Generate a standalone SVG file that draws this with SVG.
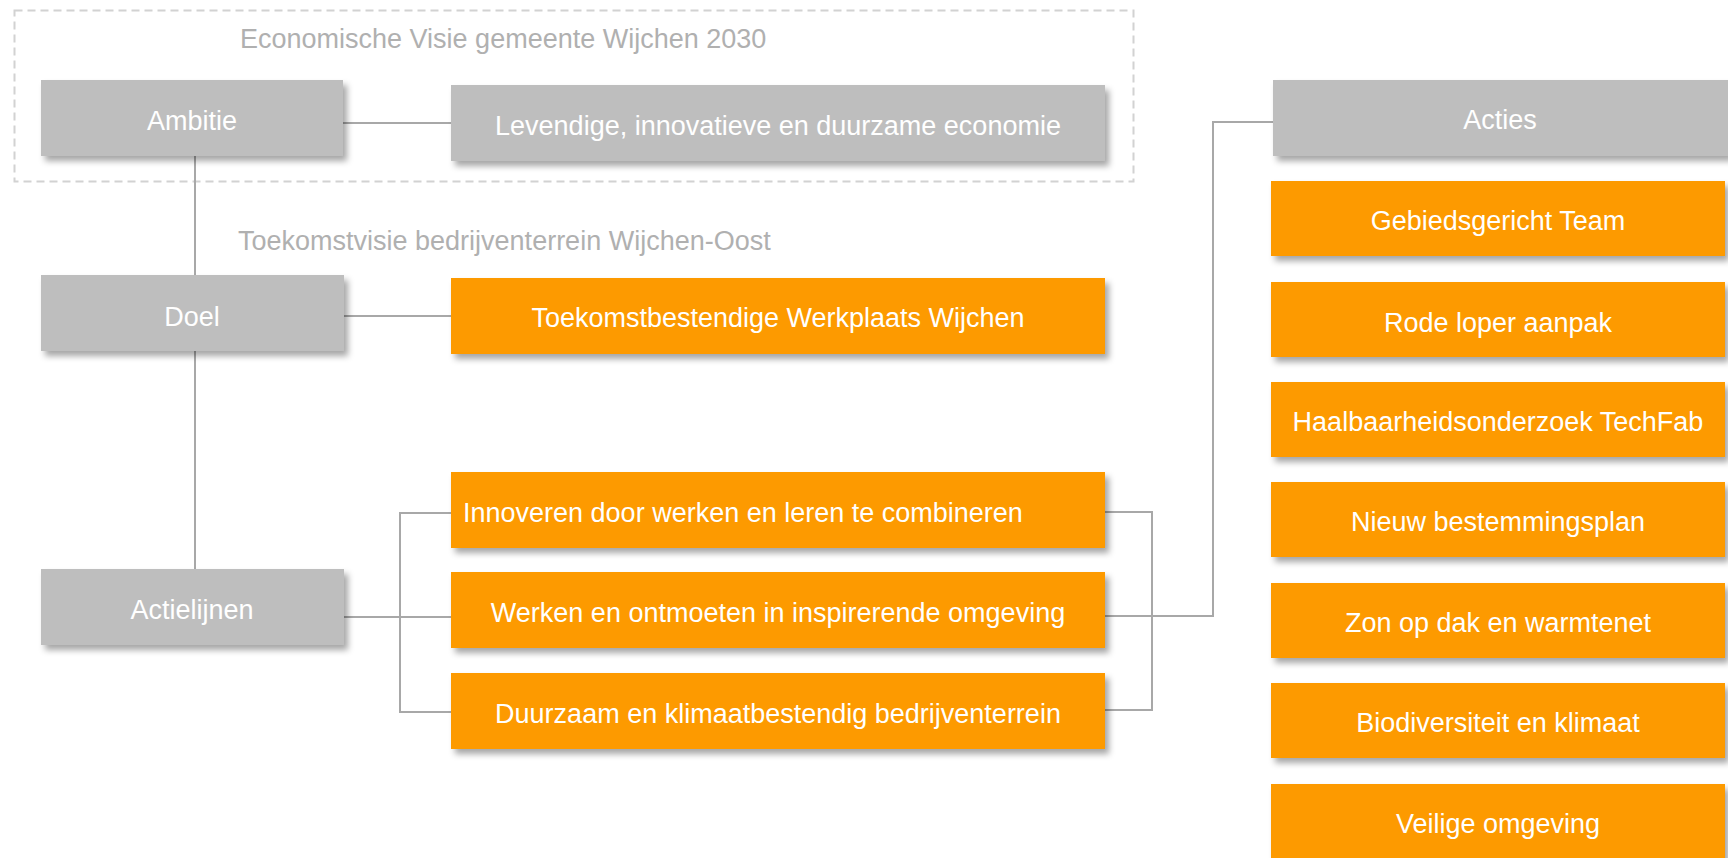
<svg xmlns="http://www.w3.org/2000/svg" width="1728" height="858" viewBox="0 0 1728 858">
  <defs>
    <filter id="sh" x="-10%" y="-20%" width="125%" height="160%">
      <feDropShadow dx="4" dy="5" stdDeviation="3" flood-color="#000" flood-opacity="0.35"/>
    </filter>
  </defs>
  <style>
    .g { fill: #bebebe; filter: url(#sh); }
    .o { fill: #fd9a00; filter: url(#sh); }
    .t { font-family: "Liberation Sans", Arial, sans-serif; font-size: 27px; fill: #ffffff; text-anchor: middle; }
    .ttl { font-family: "Liberation Sans", Arial, sans-serif; font-size: 27px; fill: #b0b0b0; }
    .c { fill: none; stroke: #a8a8a8; stroke-width: 2; }
  </style>
  <rect x="14.5" y="10.5" width="1119" height="171" fill="none" stroke="#d2d2d2" stroke-width="2" stroke-dasharray="8 5"/>
  <text class="ttl" x="240" y="48">Economische Visie gemeente Wijchen 2030</text>
  <text class="ttl" x="238" y="250">Toekomstvisie bedrijventerrein Wijchen-Oost</text>

  <g id="connectors">
    <path class="c" d="M343 123 H451"/>
    <path class="c" d="M195 156 V275"/>
    <path class="c" d="M195 351 V569"/>
    <path class="c" d="M344 316 H451"/>
    <path class="c" d="M344 617 H451"/>
    <path class="c" d="M457 513 H400 V712 H457"/>
    <path class="c" d="M1105 512 H1152 V710 H1105"/>
    <path class="c" d="M1105 616 H1213 V122 H1273"/>
  </g>

  <g id="ambitie"><rect class="g" x="41" y="80" width="302" height="76"/><text class="t" x="192" y="130">Ambitie</text></g>
  <g id="levendige"><rect class="g" x="451" y="85" width="654" height="76"/><text class="t" x="778" y="135">Levendige, innovatieve en duurzame economie</text></g>
  <g id="doel"><rect class="g" x="41" y="275" width="303" height="76"/><text class="t" x="192" y="326">Doel</text></g>
  <g id="toekomst"><rect class="o" x="451" y="278" width="654" height="76"/><text class="t" x="778" y="327">Toekomstbestendige Werkplaats Wijchen</text></g>
  <g id="actielijnen"><rect class="g" x="41" y="569" width="303" height="76"/><text class="t" x="192" y="619">Actielijnen</text></g>
  <g id="innoveren"><rect class="o" x="451" y="472" width="654" height="76"/><text class="t" x="463" y="522" style="text-anchor:start">Innoveren door werken en leren te combineren</text></g>
  <g id="werken"><rect class="o" x="451" y="572" width="654" height="76"/><text class="t" x="778" y="622">Werken en ontmoeten in inspirerende omgeving</text></g>
  <g id="duurzaam"><rect class="o" x="451" y="673" width="654" height="76"/><text class="t" x="778" y="723">Duurzaam en klimaatbestendig bedrijventerrein</text></g>

  <g id="acties"><rect class="g" x="1273" y="80" width="456" height="76"/><text class="t" x="1500" y="129">Acties</text></g>
  <g id="gebiedsgericht"><rect class="o" x="1271" y="181" width="454" height="75"/><text class="t" x="1498" y="230">Gebiedsgericht Team</text></g>
  <g id="rodeloper"><rect class="o" x="1271" y="282" width="454" height="75"/><text class="t" x="1498" y="332">Rode loper aanpak</text></g>
  <g id="haalbaarheid"><rect class="o" x="1271" y="382" width="454" height="75"/><text class="t" x="1498" y="431">Haalbaarheidsonderzoek TechFab</text></g>
  <g id="bestemmingsplan"><rect class="o" x="1271" y="482" width="454" height="75"/><text class="t" x="1498" y="531">Nieuw bestemmingsplan</text></g>
  <g id="zon"><rect class="o" x="1271" y="583" width="454" height="75"/><text class="t" x="1498" y="632">Zon op dak en warmtenet</text></g>
  <g id="biodiversiteit"><rect class="o" x="1271" y="683" width="454" height="75"/><text class="t" x="1498" y="732">Biodiversiteit en klimaat</text></g>
  <g id="veilig"><rect class="o" x="1271" y="784" width="454" height="80"/><text class="t" x="1498" y="833">Veilige omgeving</text></g>
</svg>
